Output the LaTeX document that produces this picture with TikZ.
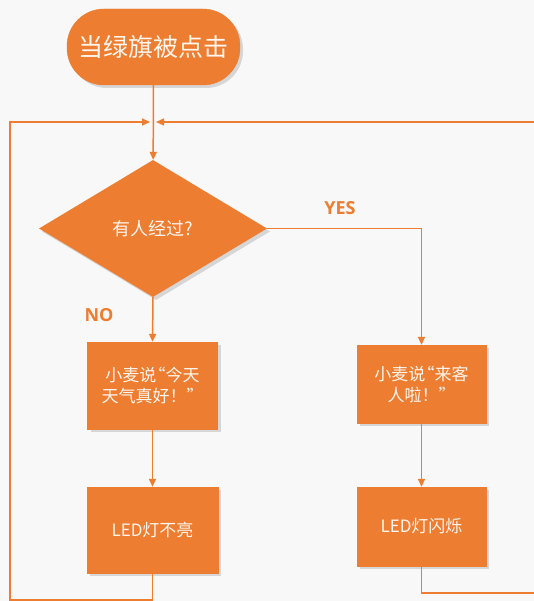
\documentclass[tikz,border=0pt]{standalone}
\usepackage{fontspec}
\setmainfont{Noto Sans CJK SC}
\newfontfamily\labfont{Open Sans}
\usetikzlibrary{shapes.geometric,arrows.meta,shadows}
\definecolor{orng}{HTML}{ED7D31}
\definecolor{bgc}{HTML}{F8F8F8}
\definecolor{txt}{HTML}{FFF6EE}
\tikzset{
  shad/.style={drop shadow={opacity=0.28,shadow xshift=3pt,shadow yshift=-3pt}},
  term/.style={draw=orng,fill=orng,shad,rounded corners=37pt,minimum width=173pt,minimum height=76pt,inner sep=0pt,text=txt,font=\fontsize{25}{30}\selectfont},
  dec/.style={diamond,fill=orng,shad,minimum width=228pt,minimum height=137pt,inner sep=0pt,text=txt,font=\fontsize{18}{22}\selectfont},
  proc/.style={draw=orng,fill=orng,shad,inner sep=0pt,text=txt,align=center,font=\fontsize{17}{21}\selectfont},
  conn/.style={draw=orng,line width=1.5pt},
  arr/.style={conn,-{Triangle[length=8pt,width=7pt]}},
  lab/.style={text=orng,font=\labfont\bfseries\fontsize{18}{20}\selectfont}
}
\begin{document}
\begin{tikzpicture}[x=1pt,y=-1pt]
\useasboundingbox (0,0) rectangle (534,601);
\fill[bgc] (0,0) rectangle (534,601);
\clip (0,0) rectangle (534,601);
\node[term] (start) at (153.5,47) {当绿旗被点击};
\node[dec] (q) at (153,228.5) {有人经过?};
\node[proc,minimum width=130pt,minimum height=87pt] (b1) at (152.5,385.5) {小麦说\hspace{-0.45em}“今天\\天气真好！”};
\node[proc,minimum width=129pt,minimum height=78pt] (b2) at (421.5,384) {小麦说\hspace{-0.45em}“来客\\人啦！”};
\node[proc,minimum width=131pt,minimum height=86pt] (b3) at (152.5,530) {LED灯不亮};
\node[proc,minimum width=129pt,minimum height=79pt] (b4) at (421.5,526.5) {LED灯闪烁};
\node[lab] (yes) at (340,208) {YES};
\node[lab] (no) at (99,315) {NO};
\coordinate (L1) at (10,600);
\coordinate (L2) at (10,122);
\coordinate (ml) at (150,122);
\coordinate (mr) at (156,122);
\coordinate (R1) at (545,593);
\coordinate (R2) at (545,122);
\draw[arr] (start) -- (q);
\draw[arr] (q.south) -- (b1.north);
\draw[arr] (q.east) -| (b2.north);
\draw[arr] (b1) -- (b3);
\draw[arr] (b2) -- (b4);
\draw[arr] (b3.south) |- (L1) -- (L2) -- (ml);
\draw[arr] (b4.south) |- (R1) -- (R2) -- (mr);
\end{tikzpicture}
\end{document}
